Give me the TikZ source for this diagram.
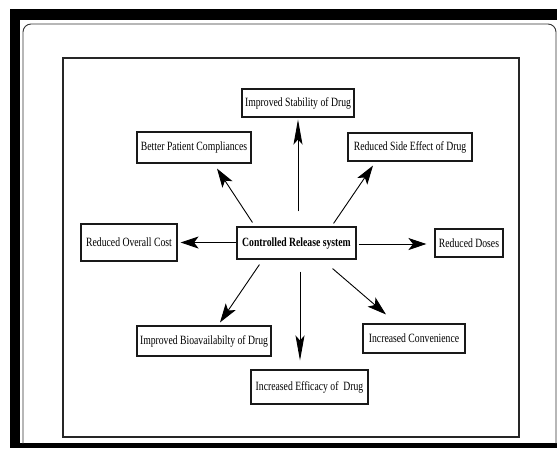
\documentclass[tikz,border=0pt]{standalone}
\usepackage{graphicx}
\usepackage{fontspec}
\setmainfont{Liberation Serif}
\usetikzlibrary{arrows.meta,calc}
\newcommand{\vtxt}[1]{\scalebox{1}[1.3]{#1}}
\begin{document}
\begin{tikzpicture}[x=1pt,y=-1pt,
  box/.style={draw=black!90, line width=1.1pt, inner sep=0pt, font=\fontsize{9.7}{11}\selectfont, text=black},
  harr/.style={line width=0.9pt, -{Stealth[length=18pt,width=12pt,inset=4.5pt]}},
  darr/.style={line width=0.9pt, -{Stealth[length=19pt,width=12pt,inset=4.5pt]}},
  varr/.style={line width=0.9pt, -{Stealth[length=25pt,width=9pt,inset=5pt]}}
  ]
\useasboundingbox (0,0) rectangle (557,448);
\fill[white] (0,0) rectangle (557,448);
\fill[black] (10,9) rectangle (557,448);
\fill[white] (20,20) rectangle (557,443);
\begin{scope}
\clip (20,20) rectangle (557,443);
\draw[line width=0.9pt, black!80, rounded corners=8pt] (23,24) rectangle (556,470);
\end{scope}
\draw[line width=1.3pt, black!85] (63,58) rectangle (519,437);

\node[box, minimum width=112pt, minimum height=28pt] (st) at (298,103) {\vtxt{Improved Stability of Drug}};
\node[box, minimum width=114pt, minimum height=31pt] (bp) at (194,147.5) {\vtxt{Better Patient Compliances}};
\node[box, minimum width=124pt, minimum height=28pt] (se) at (410,147) {\vtxt{Reduced Side Effect of Drug}};
\node[box, minimum width=96pt, minimum height=37pt] (co) at (129,242.5) {\vtxt{Reduced Overall Cost}};
\node[box, minimum width=119pt, minimum height=32pt] (c) at (296.5,243) {\vtxt{\bfseries Controlled Release system}};
\node[box, minimum width=68pt, minimum height=28pt] (rd) at (469,243) {\vtxt{Reduced Doses}};
\node[box, minimum width=134pt, minimum height=30pt] (bi) at (204,341) {\vtxt{Improved Bioavailabilty of Drug}};
\node[box, minimum width=102pt, minimum height=29pt] (cv) at (414,338.5) {\vtxt{Increased Convenience}};
\node[box, minimum width=117pt, minimum height=34pt] (ef) at (309.5,387) {\vtxt{Increased Efficacy of\ \ Drug}};

\draw[varr] ($(c.north)+(1.5,-15)$) -- ($(st.south)+(0,2)$);
\draw[darr] ($(c.north west)+(16,-4)$) -- ($(bp.south)+(23,5)$);
\draw[darr] ($(c.north east)+(-23,-3)$) -- ($(se.south)+(-37,4)$);
\draw[harr] ($(c.west)+(0,-0.5)$) -- ($(co.east)+(3,0)$);
\draw[harr] ($(c.east)+(2,1)$) -- ($(rd.west)+(-8,1)$);
\draw[darr] ($(c.south west)+(23,5)$) -- ($(bi.north)+(16,-3)$);
\draw[darr] ($(c.south east)+(-24,9)$) -- ($(cv.north)+(-28,-9)$);
\draw[varr] ($(c.south)+(3.5,12)$) -- ($(ef.north)+(-9.5,-9)$);
\end{tikzpicture}
\end{document}
